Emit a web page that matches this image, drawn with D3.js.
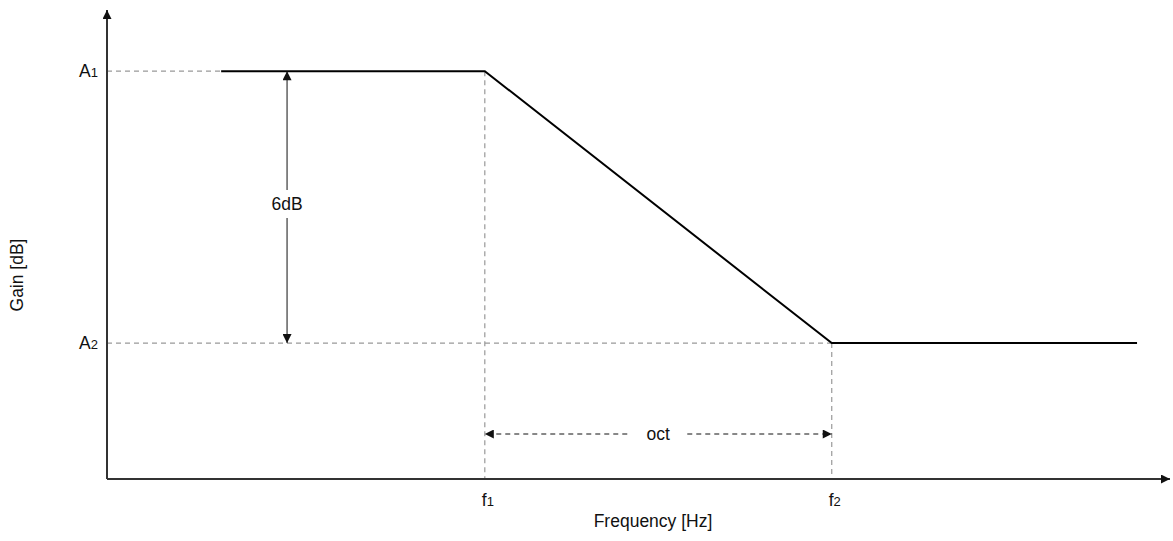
<html>
<head>
<script src="https://d3js.org/d3.v7.min.js"></script>
<style>
  body { margin: 0; background: white; }
  text { font-family: "Liberation Sans", Arial, sans-serif; fill: #111; }
</style>
</head>
<body>
<svg id="chart" width="1173" height="541"></svg>
<script>
// response in octaves (x) and dB (y)
var curveX = [0.24, 1, 2, 2.88];
var curveY = [0, 0, -6, -6];
var levelNames = ["A", "A"];
var levelSubs = ["1", "2"];
var levelVals = [0, -6];
var freqNames = ["f", "f"];
var freqSubs = ["1", "2"];
var freqVals = [1, 2];
var xDomain = [-0.089, 2.975];
var yDomain = [-9, 1.35];

var svg = d3.select("#chart");
var x = d3.scaleLinear().domain(xDomain).range([107, 1170]);
var y = d3.scaleLinear().domain(yDomain).range([479, 10]);
var fs = "17.5px", fsSub = "13px";

var defs = svg.append("defs");
function marker(id, color, w, h) {
  defs.append("marker").attr("id", id)
    .attr("viewBox", "0 0 10 10").attr("refX", 10).attr("refY", 5)
    .attr("markerUnits", "userSpaceOnUse")
    .attr("markerWidth", w).attr("markerHeight", h)
    .attr("orient", "auto-start-reverse")
    .append("path").attr("d", "M0,0L10,5L0,10z").attr("fill", color);
}
marker("axArrow", "#111", 12, 9);
marker("dimArrow", "#111", 12, 9);

var gray = "#999";
// dashed guides
levelVals.forEach(function(v, i) {
  var xEnd = i == 0 ? x(curveX[0]) : x(freqVals[1]);
  svg.append("line").attr("x1", x(xDomain[0])).attr("x2", xEnd)
    .attr("y1", y(v)).attr("y2", y(v))
    .attr("stroke", gray).attr("stroke-width", 1.2).attr("stroke-dasharray", "5,4");
});
freqVals.forEach(function(v, i) {
  svg.append("line").attr("x1", x(v)).attr("x2", x(v))
    .attr("y1", y(levelVals[i])).attr("y2", y(yDomain[0]))
    .attr("stroke", gray).attr("stroke-width", 1.2).attr("stroke-dasharray", "5,4");
});

// axes
svg.append("line").attr("x1", x(xDomain[0])).attr("x2", x(xDomain[0]))
  .attr("y1", y(yDomain[0])).attr("y2", y(yDomain[1]))
  .attr("stroke", "#333").attr("stroke-width", 2).attr("marker-end", "url(#axArrow)");
svg.append("line").attr("x1", x(xDomain[0])).attr("x2", x(xDomain[1]))
  .attr("y1", y(yDomain[0])).attr("y2", y(yDomain[0]))
  .attr("stroke", "#333").attr("stroke-width", 2).attr("marker-end", "url(#axArrow)");

// curve
var pts = curveX.map(function(d, i) { return [d, curveY[i]]; });
svg.append("path").datum(pts)
  .attr("d", d3.line().x(function(d) { return x(d[0]); }).y(function(d) { return y(d[1]); }))
  .attr("fill", "none").attr("stroke", "#000").attr("stroke-width", 2);

// tick labels
levelVals.forEach(function(v, i) {
  var t = svg.append("text").attr("x", 98).attr("y", y(v) + 6)
    .attr("text-anchor", "end").style("font-size", fs);
  t.append("tspan").text(levelNames[i]);
  t.append("tspan").text(levelSubs[i]).style("font-size", fsSub);
});
freqVals.forEach(function(v, i) {
  var t = svg.append("text").attr("x", x(v) + 3).attr("y", 506)
    .attr("text-anchor", "middle").style("font-size", fs);
  t.append("tspan").text(freqNames[i]);
  t.append("tspan").text(freqSubs[i]).style("font-size", fsSub);
});

// 6dB dimension
var dimX = x(0.43);
var midY = 204;
svg.append("line").attr("x1", dimX).attr("x2", dimX)
  .attr("y1", 190).attr("y2", y(0))
  .attr("stroke", "#111").attr("stroke-width", 1).attr("marker-end", "url(#dimArrow)");
svg.append("line").attr("x1", dimX).attr("x2", dimX)
  .attr("y1", 218).attr("y2", y(-6))
  .attr("stroke", "#111").attr("stroke-width", 1).attr("marker-end", "url(#dimArrow)");
svg.append("text").attr("x", dimX).attr("y", midY + 6)
  .attr("text-anchor", "middle").style("font-size", fs).text("6dB");

// oct dimension
var octY = 434;
var midX = (x(1) + x(2)) / 2;
svg.append("line").attr("x1", midX - 31).attr("x2", x(1))
  .attr("y1", octY).attr("y2", octY)
  .attr("stroke", "#111").attr("stroke-width", 1).attr("stroke-dasharray", "5,4")
  .attr("marker-end", "url(#dimArrow)");
svg.append("line").attr("x1", midX + 29).attr("x2", x(2))
  .attr("y1", octY).attr("y2", octY)
  .attr("stroke", "#111").attr("stroke-width", 1).attr("stroke-dasharray", "5,4")
  .attr("marker-end", "url(#dimArrow)");
svg.append("text").attr("x", midX).attr("y", octY + 6)
  .attr("text-anchor", "middle").style("font-size", fs).text("oct");

// axis titles
svg.append("text").attr("x", 653).attr("y", 527)
  .attr("text-anchor", "middle").style("font-size", fs).text("Frequency [Hz]");
svg.append("text").attr("transform", "translate(23,275) rotate(-90)")
  .attr("text-anchor", "middle").style("font-size", fs).text("Gain [dB]");
</script>
</body>
</html>
